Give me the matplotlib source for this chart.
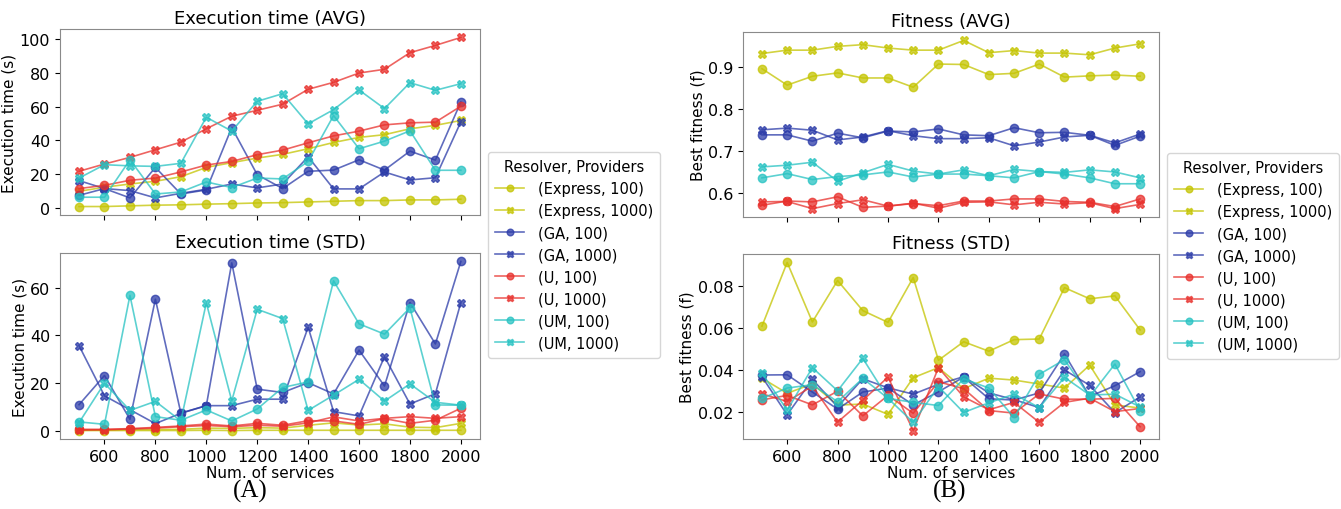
"""Execution time and fitness of the resolvers, by number of services."""

import matplotlib
matplotlib.use("Agg")
import matplotlib.pyplot as plt

services = [500, 600, 700, 800, 900, 1000, 1100, 1200,
            1300, 1400, 1500, 1600, 1700, 1800, 1900, 2000]

labels = ["(Express, 100)", "(Express, 1000)", "(GA, 100)", "(GA, 1000)",
          "(U, 100)", "(U, 1000)", "(UM, 100)", "(UM, 1000)"]

# execution time, average (s)
time_avg = [
    [1.0, 1.0, 1.4, 1.8, 2.0, 2.4, 2.7, 3.1, 3.3, 3.7, 4.1, 4.5, 4.5, 4.9, 4.9, 5.3],
    [10.0, 12.4, 14.3, 15.9, 18.6, 24.1, 26.9, 29.6, 31.8, 35.1, 38.8, 41.8, 43.4, 46.9, 48.9, 51.8],
    [7.6, 11.6, 6.1, 24.1, 8.4, 10.8, 47.6, 19.8, 11.6, 21.8, 22.5, 28.6, 22.5, 33.7, 28.4, 62.7],
    [16.3, 11.6, 10.4, 6.1, 8.8, 11.2, 14.3, 12.0, 14.3, 30.4, 11.4, 11.4, 21.4, 16.7, 18.0, 51.0],
    [11.6, 13.5, 16.5, 17.8, 21.4, 25.5, 27.6, 31.6, 34.3, 38.6, 42.7, 45.5, 49.2, 50.4, 50.8, 60.2],
    [21.8, 26.1, 30.0, 34.5, 39.0, 46.9, 54.3, 57.8, 61.4, 70.2, 74.3, 79.8, 82.0, 91.8, 96.1, 100.8],
    [6.5, 6.5, 28.6, 8.4, 9.6, 15.5, 12.2, 17.8, 17.3, 27.6, 54.7, 35.1, 39.6, 45.7, 22.4, 22.4],
    [17.8, 25.7, 25.0, 24.7, 26.5, 53.7, 45.5, 63.1, 67.6, 49.8, 58.2, 69.8, 58.8, 74.1, 69.6, 73.5],
]

# execution time, standard deviation (s)
time_std = [
    [0.2, 0.2, 0.2, 0.2, 0.2, 0.3, 0.2, 0.3, 0.3, 0.3, 0.3, 0.3, 0.3, 0.3, 0.3, 0.3],
    [0.3, 0.4, 0.6, 0.6, 0.7, 1.2, 1.1, 1.4, 1.2, 2.4, 3.4, 2.5, 3.0, 1.6, 1.4, 3.2],
    [11.0, 23.2, 4.9, 55.1, 7.5, 10.6, 70.3, 17.5, 16.1, 20.2, 15.5, 33.8, 18.8, 53.7, 36.4, 70.9],
    [35.7, 14.7, 8.9, 3.1, 7.4, 10.6, 10.6, 13.3, 13.3, 43.4, 8.1, 6.3, 31.1, 11.3, 15.6, 53.7],
    [0.7, 0.7, 1.0, 1.5, 2.1, 2.9, 2.1, 3.2, 2.4, 4.3, 4.2, 2.8, 5.2, 3.2, 4.5, 9.5],
    [0.4, 0.5, 0.8, 1.2, 1.8, 2.3, 1.8, 2.4, 2.0, 3.4, 5.9, 4.2, 5.3, 6.0, 5.3, 6.0],
    [3.8, 2.8, 56.7, 6.0, 4.5, 8.8, 4.2, 9.2, 18.2, 20.5, 62.8, 44.8, 40.5, 51.5, 10.9, 10.8],
    [3.5, 20.0, 8.6, 12.4, 4.2, 53.6, 12.6, 50.9, 47.0, 8.6, 15.0, 21.6, 12.5, 19.7, 12.0, 10.8],
]

# best fitness, average
fit_avg = [
    [0.895, 0.856, 0.877, 0.885, 0.873, 0.873, 0.851, 0.906, 0.905, 0.881, 0.884, 0.906, 0.875, 0.878, 0.880, 0.877],
    [0.931, 0.939, 0.939, 0.948, 0.952, 0.944, 0.939, 0.939, 0.962, 0.933, 0.938, 0.932, 0.932, 0.928, 0.944, 0.954],
    [0.738, 0.738, 0.723, 0.742, 0.731, 0.747, 0.745, 0.752, 0.738, 0.736, 0.755, 0.743, 0.744, 0.737, 0.713, 0.735],
    [0.750, 0.754, 0.749, 0.726, 0.733, 0.748, 0.736, 0.729, 0.729, 0.731, 0.712, 0.721, 0.733, 0.737, 0.719, 0.740],
    [0.571, 0.581, 0.579, 0.591, 0.566, 0.569, 0.575, 0.570, 0.581, 0.581, 0.586, 0.586, 0.580, 0.578, 0.568, 0.586],
    [0.579, 0.580, 0.563, 0.575, 0.584, 0.569, 0.576, 0.564, 0.578, 0.579, 0.572, 0.578, 0.574, 0.577, 0.563, 0.573],
    [0.636, 0.646, 0.632, 0.639, 0.643, 0.650, 0.638, 0.645, 0.645, 0.641, 0.636, 0.651, 0.645, 0.636, 0.622, 0.622],
    [0.662, 0.666, 0.673, 0.628, 0.648, 0.668, 0.652, 0.645, 0.655, 0.641, 0.656, 0.651, 0.649, 0.655, 0.650, 0.636],
]

# best fitness, standard deviation
fit_std = [
    [0.0607, 0.0910, 0.0627, 0.0824, 0.0681, 0.0625, 0.0838, 0.0445, 0.0533, 0.0488, 0.0543, 0.0546, 0.0790, 0.0737, 0.0751, 0.0589],
    [0.0360, 0.0288, 0.0333, 0.0232, 0.0237, 0.0188, 0.0362, 0.0410, 0.0310, 0.0360, 0.0351, 0.0332, 0.0313, 0.0422, 0.0233, 0.0218],
    [0.0375, 0.0376, 0.0294, 0.0213, 0.0294, 0.0313, 0.0233, 0.0295, 0.0365, 0.0262, 0.0256, 0.0290, 0.0475, 0.0273, 0.0324, 0.0391],
    [0.0367, 0.0186, 0.0354, 0.0224, 0.0357, 0.0314, 0.0284, 0.0331, 0.0367, 0.0290, 0.0258, 0.0220, 0.0399, 0.0326, 0.0196, 0.0271],
    [0.0257, 0.0278, 0.0233, 0.0298, 0.0181, 0.0278, 0.0193, 0.0343, 0.0310, 0.0206, 0.0194, 0.0285, 0.0260, 0.0260, 0.0264, 0.0129],
    [0.0286, 0.0249, 0.0322, 0.0151, 0.0255, 0.0365, 0.0111, 0.0410, 0.0271, 0.0210, 0.0245, 0.0150, 0.0245, 0.0265, 0.0201, 0.0216],
    [0.0264, 0.0313, 0.0329, 0.0248, 0.0359, 0.0264, 0.0245, 0.0230, 0.0357, 0.0313, 0.0173, 0.0378, 0.0448, 0.0273, 0.0427, 0.0205],
    [0.0384, 0.0208, 0.0410, 0.0300, 0.0454, 0.0264, 0.0150, 0.0320, 0.0197, 0.0243, 0.0284, 0.0220, 0.0364, 0.0280, 0.0284, 0.0223],
]

colors = ["#c4c400", "#c4c400", "#2b3ba8", "#2b3ba8",
          "#e8302c", "#e8302c", "#26c2c2", "#26c2c2"]
markers = ["o", "X", "o", "X", "o", "X", "o", "X"]

plt.rcParams["font.family"] = ["DejaVu Sans"]
plt.rcParams["axes.edgecolor"] = "#8a8a8a"
plt.rcParams["xtick.labelsize"] = 11.5
plt.rcParams["ytick.labelsize"] = 11.5

fig = plt.figure(figsize=(13.41, 5.1), dpi=100)


def add_axes(rect, series, title, ylabel, bottom):
    ax = fig.add_axes(rect)
    for values, color, marker, label in zip(series, colors, markers, labels):
        ax.plot(services, values, color=color, marker=marker, markersize=6,
                linewidth=1.2, alpha=0.75, label=label)
    ax.set_title(title, fontsize=13, pad=4)
    ax.set_ylabel(ylabel, fontsize=11, labelpad=2)
    ax.set_xticks(range(600, 2001, 200))
    if bottom:
        ax.set_xlabel("Num. of services", fontsize=11, labelpad=1)
    else:
        ax.tick_params(axis="x", labelbottom=False)
    return ax


ax1 = add_axes([0.0447, 0.5765, 0.3132, 0.3647], time_avg,
               "Execution time (AVG)", "Execution time (s)", False)
ax1.set_yticks([0, 20, 40, 60, 80, 100])
ax2 = add_axes([0.0447, 0.1373, 0.3132, 0.3647], time_std,
               "Execution time (STD)", "Execution time (s)", True)
ax2.set_yticks([0, 20, 40, 60])
ax3 = add_axes([0.5541, 0.5725, 0.3102, 0.3627], fit_avg,
               "Fitness (AVG)", "Best fitness (f)", False)
ax3.set_yticks([0.6, 0.7, 0.8, 0.9])
ax4 = add_axes([0.5541, 0.1373, 0.3102, 0.3627], fit_std,
               "Fitness (STD)", "Best fitness (f)", True)
ax4.set_yticks([0.02, 0.04, 0.06, 0.08])

for ax, anchor in [(ax1, (0.3639, 0.700)), (ax3, (0.8702, 0.698))]:
    handles, names = ax.get_legend_handles_labels()
    fig.legend(handles, names, title="Resolver, Providers", loc="upper left",
               bbox_to_anchor=anchor, borderaxespad=0, fontsize=10.5,
               title_fontsize=10.5, markerscale=0.8, labelspacing=0.48,
               handlelength=2.0, handletextpad=0.9, borderpad=0.5)

fig.text(0.1866, 0.037, "(A)", ha="center", va="center", fontsize=18,
         family="Liberation Serif")
fig.text(0.708, 0.037, "(B)", ha="center", va="center", fontsize=18,
         family="Liberation Serif")

fig.savefig("out.png", dpi=100)
